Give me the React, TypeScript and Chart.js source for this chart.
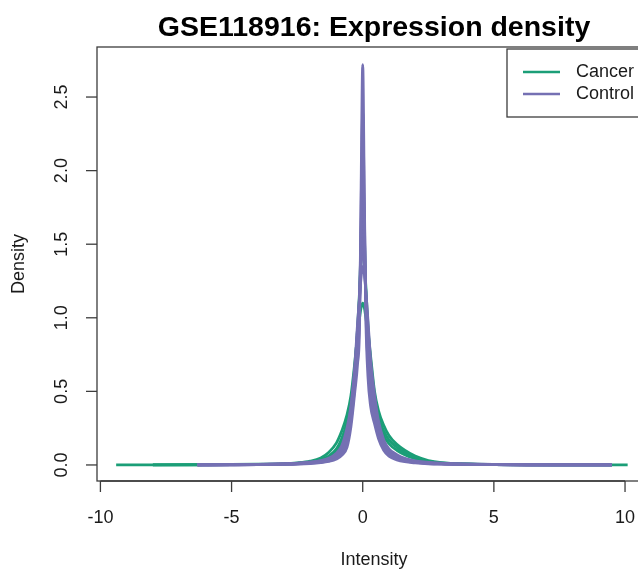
import React, { useEffect, useRef } from "react";
import { Chart, registerables } from "chart.js";

Chart.register(...registerables);

const titleText = "GSE118916: Expression density";
const xLabel = "Intensity";
const yLabel = "Density";
const xTicks = [-10, -5, 0, 5, 10];
const yTicks = [0, 0.5, 1, 1.5, 2, 2.5];
const yTickLabels = ["0.0", "0.5", "1.0", "1.5", "2.0", "2.5"];
const groups = ["Cancer", "Control"];
const groupColors = ["#1B9E77", "#7570B3"];

const xGrid = [-9.4, -8, -6.3, -5, -4, -3, -2.5, -2, -1.6, -1.3, -1.0, -0.8, -0.6, -0.45, -0.3, -0.2, -0.12, -0.06, 0, 0.06, 0.12, 0.2, 0.3, 0.45, 0.6, 0.8, 1.0, 1.3, 1.6, 2.0, 2.5, 3, 4, 5, 6.3, 8, 9.5, 10.1];

const cancerCurves = [
  [0.0005, 0.001, 0.002, 0.003, 0.005, 0.008, 0.014, 0.026, 0.048, 0.085, 0.15, 0.23, 0.34, 0.47, 0.7, 0.88, 1.0, 1.07, 1.1, 1.07, 1.0, 0.9, 0.74, 0.5, 0.37, 0.27, 0.2, 0.14, 0.1, 0.06, 0.03, 0.016, 0.007, 0.004, 0.002, 0.001, 0.0005, 0],
  [null, 0.0005, 0.0015, 0.0025, 0.004, 0.007, 0.011, 0.02, 0.035, 0.06, 0.11, 0.18, 0.29, 0.42, 0.66, 0.92, 1.18, 1.4, 1.6, 1.42, 1.2, 0.95, 0.7, 0.46, 0.33, 0.23, 0.17, 0.12, 0.085, 0.05, 0.025, 0.013, 0.006, 0.003, 0.0015, 0.0007, 0, null],
  [null, 0, 0.001, 0.002, 0.0035, 0.006, 0.01, 0.017, 0.03, 0.05, 0.09, 0.15, 0.25, 0.37, 0.6, 0.85, 1.15, 1.55, 2.0, 1.58, 1.18, 0.88, 0.62, 0.4, 0.29, 0.2, 0.145, 0.1, 0.07, 0.042, 0.022, 0.012, 0.0055, 0.003, 0.0013, 0.0006, 0, null],
];

const controlCurves = [
  [null, null, 0, 0.001, 0.002, 0.004, 0.006, 0.01, 0.016, 0.024, 0.04, 0.065, 0.12, 0.26, 0.5, 0.68, 0.95, 1.9, 2.72, 1.85, 1.0, 0.6, 0.4, 0.28, 0.18, 0.1, 0.06, 0.035, 0.022, 0.014, 0.008, 0.005, 0.003, 0.002, 0.001, 0.0005, 0, null],
  [null, null, 0, 0.0012, 0.0025, 0.005, 0.007, 0.012, 0.019, 0.028, 0.048, 0.08, 0.15, 0.3, 0.54, 0.76, 1.02, 1.75, 2.4, 1.75, 1.05, 0.7, 0.47, 0.31, 0.2, 0.115, 0.07, 0.042, 0.027, 0.017, 0.01, 0.007, 0.004, 0.002, 0.001, 0.0005, 0, null],
  [null, null, 0, 0.0014, 0.003, 0.006, 0.008, 0.014, 0.022, 0.033, 0.056, 0.095, 0.18, 0.33, 0.58, 0.83, 1.08, 1.6, 2.05, 1.62, 1.1, 0.78, 0.54, 0.35, 0.23, 0.13, 0.08, 0.05, 0.032, 0.02, 0.012, 0.008, 0.0045, 0.0025, 0.0012, 0.0006, 0, null],
  [null, null, 0, 0.0016, 0.0033, 0.007, 0.01, 0.016, 0.025, 0.037, 0.064, 0.11, 0.21, 0.36, 0.62, 0.88, 1.12, 1.45, 1.78, 1.48, 1.14, 0.86, 0.6, 0.4, 0.26, 0.15, 0.09, 0.057, 0.037, 0.023, 0.014, 0.009, 0.005, 0.0028, 0.0013, 0.0006, 0, null],
  [null, null, 0, 0.0018, 0.0036, 0.0075, 0.011, 0.018, 0.028, 0.041, 0.072, 0.12, 0.23, 0.38, 0.65, 0.92, 1.14, 1.36, 1.55, 1.38, 1.16, 0.92, 0.66, 0.44, 0.28, 0.16, 0.1, 0.063, 0.041, 0.025, 0.016, 0.01, 0.0055, 0.003, 0.0014, 0.0007, 0, null],
  [null, null, 0, 0.002, 0.004, 0.008, 0.012, 0.02, 0.03, 0.045, 0.08, 0.13, 0.25, 0.4, 0.68, 0.95, 1.15, 1.28, 1.35, 1.3, 1.18, 0.98, 0.72, 0.48, 0.3, 0.17, 0.11, 0.07, 0.045, 0.028, 0.018, 0.012, 0.006, 0.003, 0.0015, 0.0007, 0, null],
];

const FONT = "'Liberation Sans', Arial, Helvetica, sans-serif";
const LINE_COLOR = "#3c3c3c";
const TEXT_COLOR = "#1a1a1a";

function toPoints(vals: (number | null)[]) {
  const pts: { x: number; y: number }[] = [];
  vals.forEach((v, i) => {
    if (v !== null) pts.push({ x: xGrid[i], y: v });
  });
  return pts;
}

const decorPlugin = {
  id: "decor",
  afterDraw(chart: any) {
    const ctx = chart.ctx as CanvasRenderingContext2D;
    const { left, right, top, bottom } = chart.chartArea;
    const xs = chart.scales.x;
    const ys = chart.scales.y;
    ctx.save();
    ctx.strokeStyle = LINE_COLOR;
    ctx.lineWidth = 1.3;
    ctx.strokeRect(left, top, right - left, bottom - top);

    ctx.fillStyle = TEXT_COLOR;
    ctx.font = `18px ${FONT}`;
    ctx.textAlign = "center";
    ctx.textBaseline = "middle";
    // x ticks
    const x0 = xs.getPixelForValue(xTicks[0]);
    const x1 = xs.getPixelForValue(xTicks[xTicks.length - 1]);
    ctx.beginPath();
    ctx.moveTo(x0, bottom);
    ctx.lineTo(x1, bottom);
    ctx.stroke();
    xTicks.forEach((v) => {
      const px = xs.getPixelForValue(v);
      ctx.beginPath();
      ctx.moveTo(px, bottom);
      ctx.lineTo(px, bottom + 11);
      ctx.stroke();
      ctx.fillText(String(v), px, bottom + 37);
    });
    // y ticks
    yTicks.forEach((v, i) => {
      const py = ys.getPixelForValue(v);
      ctx.beginPath();
      ctx.moveTo(left - 11, py);
      ctx.lineTo(left, py);
      ctx.stroke();
      ctx.save();
      ctx.translate(left - 35, py);
      ctx.rotate(-Math.PI / 2);
      ctx.fillText(yTickLabels[i], 0, 0);
      ctx.restore();
    });
    // axis titles
    const cx = (left + right) / 2;
    const cy = (top + bottom) / 2;
    ctx.fillText(xLabel, cx, bottom + 79);
    ctx.save();
    ctx.translate(left - 78, cy);
    ctx.rotate(-Math.PI / 2);
    ctx.fillText(yLabel, 0, 0);
    ctx.restore();
    // title
    ctx.font = `bold 28.5px ${FONT}`;
    ctx.fillStyle = "#000";
    ctx.fillText(titleText, cx, top - 19);

    // legend
    const lx = right - 144;
    const ly = top + 2;
    const lh = 68;
    ctx.fillStyle = "#fff";
    ctx.fillRect(lx, ly, 160, lh);
    ctx.strokeStyle = LINE_COLOR;
    ctx.lineWidth = 1.3;
    ctx.strokeRect(lx, ly, 160, lh);
    ctx.font = `18px ${FONT}`;
    ctx.textAlign = "left";
    groups.forEach((g, i) => {
      const yy = ly + 23 + i * 22;
      ctx.strokeStyle = groupColors[i];
      ctx.lineWidth = 2.6;
      ctx.beginPath();
      ctx.moveTo(lx + 16, yy);
      ctx.lineTo(lx + 53, yy);
      ctx.stroke();
      ctx.fillStyle = TEXT_COLOR;
      ctx.fillText(g, lx + 69, yy);
    });
    ctx.restore();
  },
};

export default function App() {
  const ref = useRef<HTMLCanvasElement | null>(null);
  useEffect(() => {
    if (!ref.current) return;
    const datasets: any[] = [];
    controlCurves.forEach((c, i) => {
      datasets.push({
        label: `${groups[1]} ${i + 1}`,
        data: toPoints(c),
        borderColor: groupColors[1],
        borderWidth: 2.8,
        pointRadius: 0,
        cubicInterpolationMode: "monotone",
        fill: false,
        order: 0,
      });
    });
    cancerCurves.forEach((c, i) => {
      datasets.push({
        label: `${groups[0]} ${i + 1}`,
        data: toPoints(c),
        borderColor: groupColors[0],
        borderWidth: 2.8,
        pointRadius: 0,
        cubicInterpolationMode: "monotone",
        fill: false,
        order: 1,
      });
    });
    const chart = new Chart(ref.current, {
      type: "line",
      data: { datasets },
      options: {
        animation: false,
        responsive: false,
        maintainAspectRatio: false,
        layout: { padding: { left: 97, top: 47, right: 9, bottom: 88 } },
        scales: {
          x: { type: "linear", min: -10.13, max: 10.99, display: false },
          y: { type: "linear", min: -0.109, max: 2.84, display: false },
        },
        plugins: {
          legend: { display: false },
          tooltip: { enabled: false },
        },
      },
      plugins: [decorPlugin],
    });
    return () => chart.destroy();
  }, []);
  return (
    <div style={{ position: "fixed", left: 0, top: 0, width: 638, height: 569, overflow: "hidden", background: "#fff" }}>
      <canvas ref={ref} width={660} height={569} style={{ width: 660, height: 569, display: "block" }} />
    </div>
  );
}
